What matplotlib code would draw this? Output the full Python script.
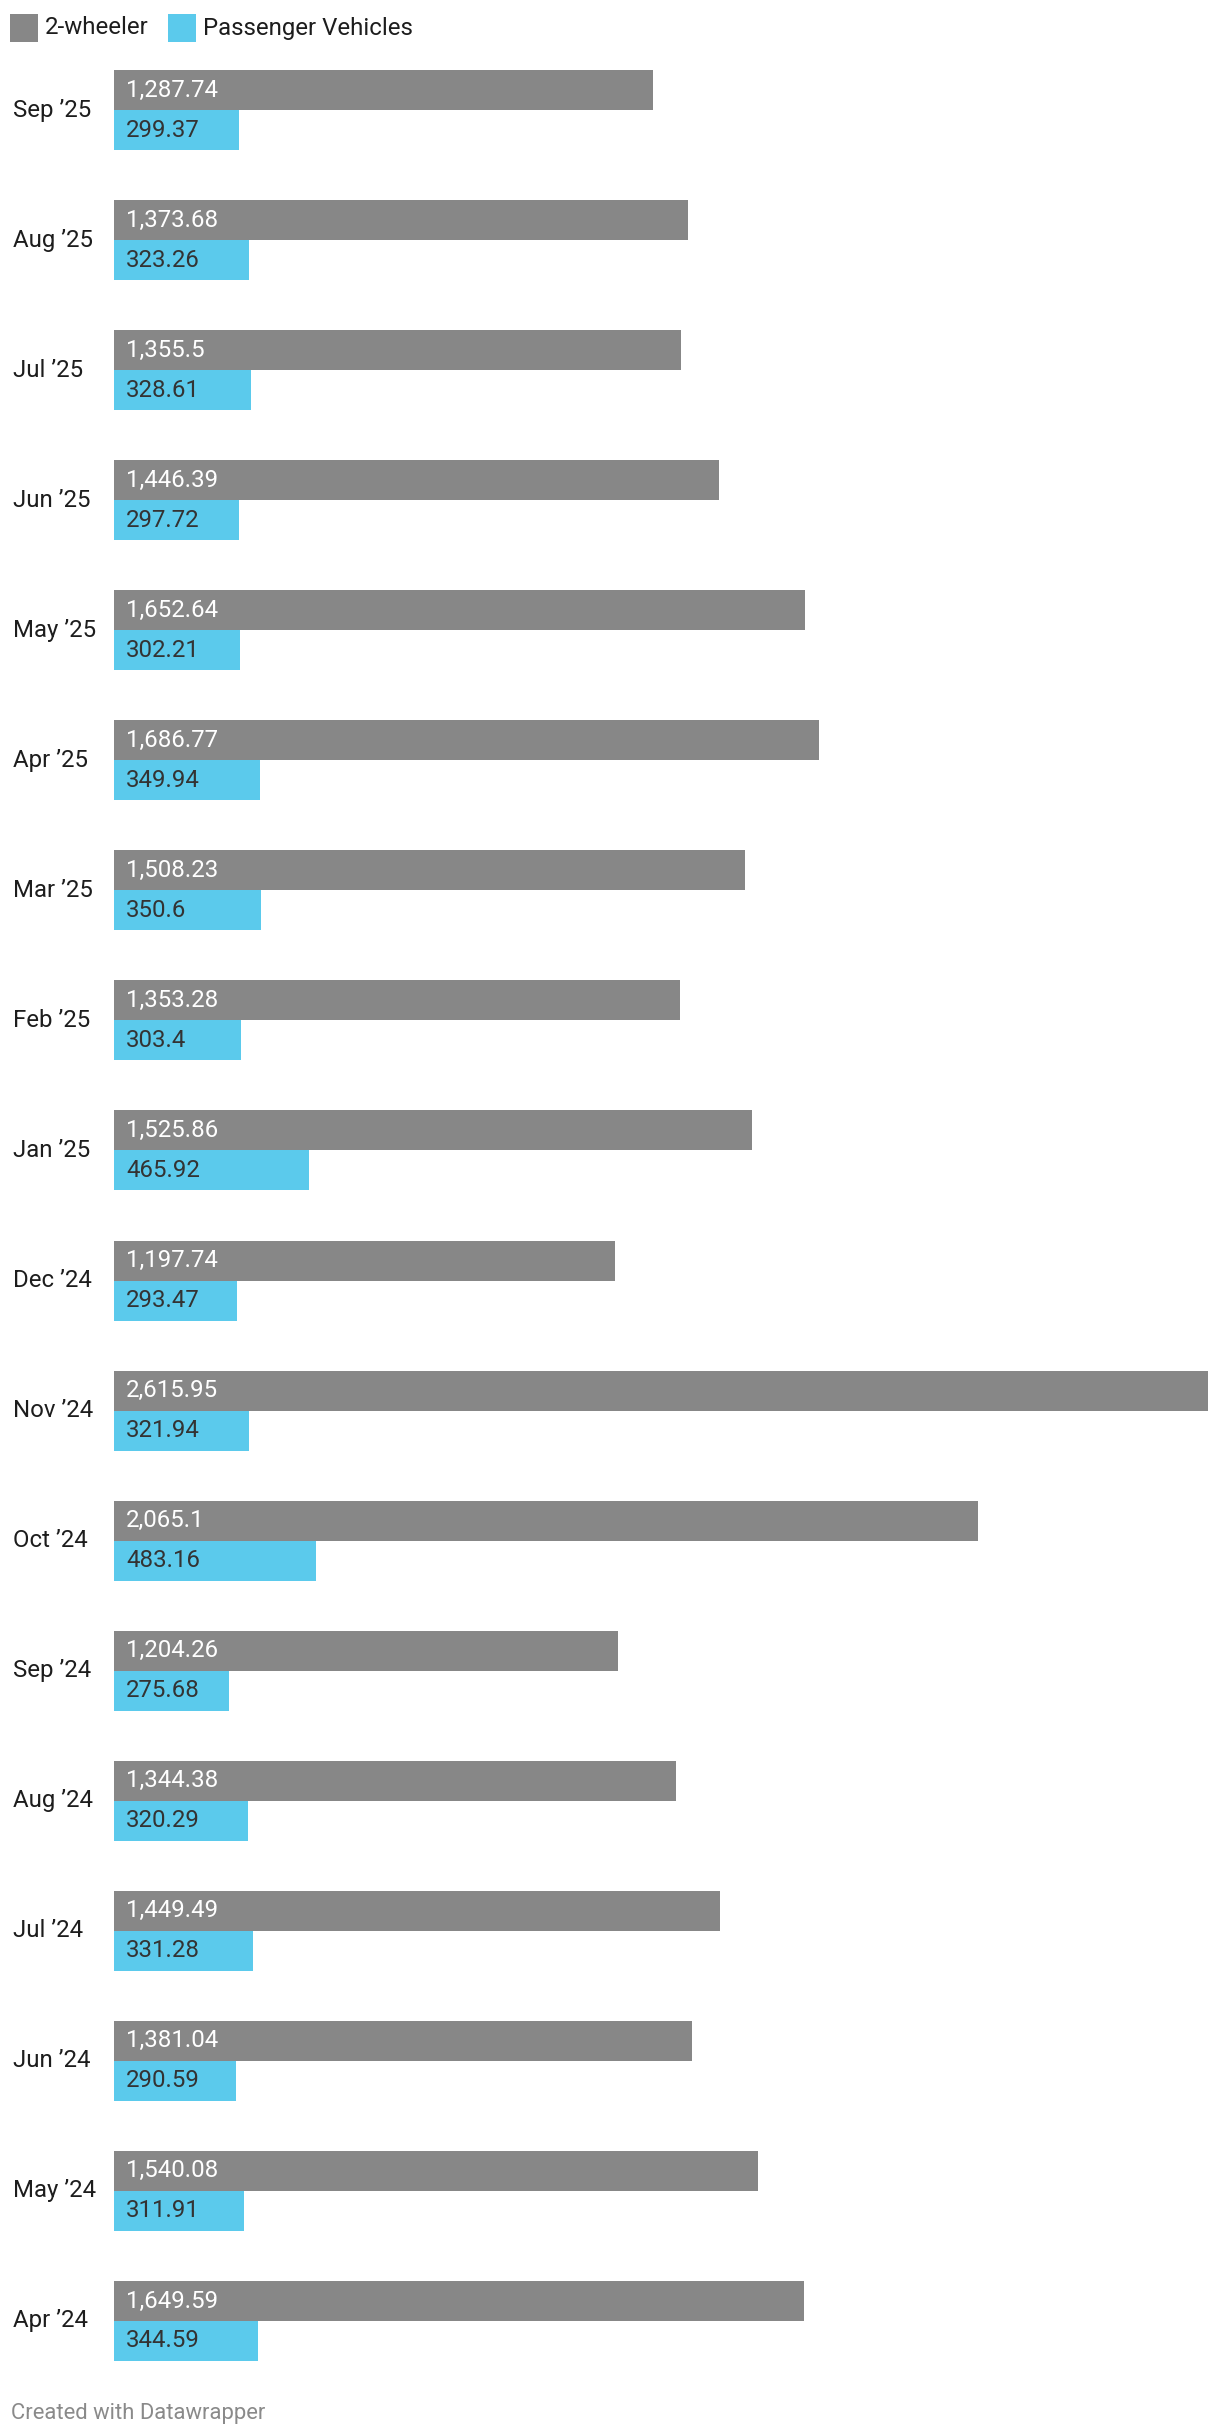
import matplotlib
matplotlib.use("Agg")
import matplotlib.pyplot as plt
import matplotlib.transforms as mtransforms
from matplotlib.patches import Rectangle

plt.rcParams['font.family'] = ['Roboto', 'DejaVu Sans']

# === DATA ===
months = ["Sep ’25", "Aug ’25", "Jul ’25", "Jun ’25", "May ’25", "Apr ’25",
          "Mar ’25", "Feb ’25", "Jan ’25", "Dec ’24", "Nov ’24", "Oct ’24",
          "Sep ’24", "Aug ’24", "Jul ’24", "Jun ’24", "May ’24", "Apr ’24"]
two_wheeler = [1287.74, 1373.68, 1355.5, 1446.39, 1652.64, 1686.77,
               1508.23, 1353.28, 1525.86, 1197.74, 2615.95, 2065.1,
               1204.26, 1344.38, 1449.49, 1381.04, 1540.08, 1649.59]
passenger = [299.37, 323.26, 328.61, 297.72, 302.21, 349.94,
             350.6, 303.4, 465.92, 293.47, 321.94, 483.16,
             275.68, 320.29, 331.28, 290.59, 311.91, 344.59]
series_names = ["2-wheeler", "Passenger Vehicles"]

# === STYLE ===
W, H = 1220, 2436
gray = "#878787"
blue = "#5bcaec"
bar_h = 40 / 130.06   # bar thickness in group units
fs = 17.3

def fmt(v):
    s = f"{v:,.2f}"
    return s.rstrip("0").rstrip(".")

fig = plt.figure(figsize=(W / 100, H / 100), dpi=100)
ax = fig.add_axes([114 / W, 1 - 2386 / H, (1208 - 114) / W, (2386 - 45) / H])

ys = list(range(len(months)))
y_top = [y - bar_h / 2 for y in ys]
y_bot = [y + bar_h / 2 for y in ys]

ax.barh(y_top, two_wheeler, height=bar_h, color=gray, linewidth=0)
ax.barh(y_bot, passenger, height=bar_h, color=blue, linewidth=0)

ax.set_xlim(0, max(two_wheeler))
ax.set_ylim(len(months) - 0.5, -0.5)
ax.axis("off")

# value labels inside bars
for y, v in zip(y_top, two_wheeler):
    ax.annotate(fmt(v), (0, y), xytext=(12, 0), textcoords="offset pixels",
                ha="left", va="center", fontsize=fs, color="white")
for y, v in zip(y_bot, passenger):
    ax.annotate(fmt(v), (0, y), xytext=(12, 0), textcoords="offset pixels",
                ha="left", va="center", fontsize=fs, color="#333333")

# month labels at left edge of figure
trans = mtransforms.blended_transform_factory(fig.transFigure, ax.transData)
for y, m in zip(ys, months):
    ax.text(13 / W, y, m, transform=trans, ha="left", va="center",
            fontsize=fs, color="#1d1d1d")

# legend
for x0, name, c in [(10, series_names[0], gray), (168, series_names[1], blue)]:
    fig.add_artist(Rectangle((x0 / W, 1 - 42 / H), 28 / W, 28 / H,
                             transform=fig.transFigure, color=c, linewidth=0))
    fig.text((x0 + 35) / W, 1 - 28 / H, name, ha="left", va="center",
             fontsize=fs, color="#1d1d1d")

fig.text(11 / W, 1 - 2413 / H, "Created with Datawrapper", ha="left",
         va="center", fontsize=15.8, color="#8a8a8a")

fig.savefig("out.png", dpi=100)
